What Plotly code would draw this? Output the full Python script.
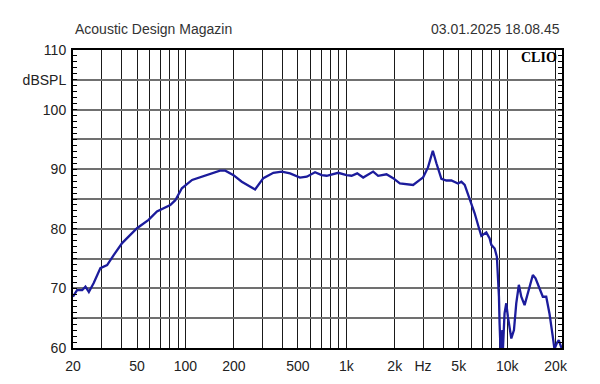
import math
import plotly.graph_objects as go

# ---- data ----
freq_hz = [20, 21.2, 22.8, 23.9, 25.1, 26.9, 29.6, 32.6, 35.8, 40.4, 50, 59, 66.5, 80.5, 86.5, 95,
           110, 136, 164, 177, 199, 224, 252, 271, 305, 352, 397, 447, 515, 568, 639, 703, 755,
           891, 1004, 1079, 1169, 1273, 1469, 1577, 1778, 1955, 2152, 2366, 2601, 2864, 3000,
           3220, 3450, 3632, 3900, 4190, 4500, 4945, 5190, 5445, 5850, 6280, 6680, 6910, 7420,
           7780, 7970, 8360, 8630, 8750, 8890, 8970, 9100, 9330, 9400, 9630, 9870, 10100, 10610,
           11020, 11390, 11820, 12240, 12830, 13440, 14440, 15010, 15890, 16660, 17490, 18320,
           19210, 19680, 20340, 20930, 21450, 21920]
spl_db = [68.6, 69.7, 69.7, 70.3, 69.4, 70.9, 73.4, 73.9, 75.6, 77.6, 80.1, 81.5, 82.9, 84.0, 84.8, 86.8,
          88.2, 89.0, 89.75, 89.75, 89.0, 87.9, 87.1, 86.6, 88.5, 89.4, 89.6, 89.3, 88.6, 88.75, 89.5,
          89.0, 88.9, 89.4, 89.0, 88.9, 89.3, 88.6, 89.6, 88.9, 89.15, 88.5, 87.6, 87.5, 87.35, 88.2,
          88.6, 90.3, 93.1, 91.0, 88.4, 88.1, 88.1, 87.6, 87.9, 87.35, 85.0, 82.6, 80.1, 78.8, 79.4,
          78.4, 77.3, 76.7, 75.3, 72.5, 68.6, 64.1, 59.5, 63.0, 59.5, 65.8, 67.5, 65.3, 61.6,
          63.0, 67.5, 70.6, 68.6, 67.2, 69.2, 72.25, 71.7, 70.0, 68.6, 68.6, 65.8,
          61.9, 59.8, 60.8, 61.3, 60.5, 59.8]

x_grid = [20, 30, 40, 50, 60, 70, 80, 90, 100, 200, 300, 400, 500, 600, 700, 800, 900,
          1000, 2000, 3000, 4000, 5000, 6000, 7000, 8000, 9000, 10000, 20000]
x_labels = {20: "20", 50: "50", 100: "100", 200: "200", 500: "500", 1000: "1k", 2000: "2k",
            3000: "Hz", 5000: "5k", 10000: "10k", 20000: "20k"}
y_grid = [60, 65, 70, 75, 80, 85, 90, 95, 100, 105, 110]
y_labels = {60: "60", 70: "70", 80: "80", 90: "90", 100: "100", 105: "dBSPL", 110: "110"}

title_left = "Acoustic Design Magazin"
title_right = "03.01.2025 18.08.45"
brand = "CLIO"

fig = go.Figure()
fig.add_trace(go.Scatter(x=freq_hz, y=spl_db, mode="lines",
                         line=dict(color="#1c1c9c", width=2.3), hoverinfo="skip"))

tick_font = dict(family="Liberation Sans, Arial, sans-serif", size=14, color="#222222")

# the page body adds an 8px margin, so the figure is sized 592x376 and offset accordingly
fig.update_layout(
    width=592, height=376,
    margin=dict(l=64.5, r=37.5, t=42, b=36, autoexpand=False),
    paper_bgcolor="white", plot_bgcolor="white",
    showlegend=False,
    xaxis=dict(
        type="log", range=[math.log10(20), math.log10(21920)],
        tickmode="array", tickvals=x_grid,
        ticktext=[x_labels.get(v, "") for v in x_grid],
        showgrid=True, gridcolor="#1a1a1a", gridwidth=1,
        showline=True, linecolor="black", linewidth=2, mirror=True,
        ticks="", tickfont=tick_font, zeroline=False, ticklabelstandoff=4,
        automargin=False,
    ),
    yaxis=dict(
        range=[60, 110],
        tickmode="array", tickvals=y_grid,
        ticktext=[y_labels.get(v, "") for v in y_grid],
        showgrid=True, gridcolor="#707070", gridwidth=1.5,
        showline=True, linecolor="black", linewidth=2, mirror="allticks",
        ticks="inside", ticklen=4, tickcolor="black",
        minor=dict(ticks="inside", ticklen=4, dtick=1, tick0=60, tickcolor="black", showgrid=False),
        tickfont=tick_font, zeroline=False, ticklabelstandoff=2, automargin=False,
    ),
    annotations=[
        dict(text=title_left, xref="paper", yref="paper", x=0, y=1, xanchor="left", yanchor="middle",
             yshift=21, showarrow=False,
             font=dict(family="Liberation Sans, Arial, sans-serif", size=14, color="#333333")),
        dict(text=title_right, xref="paper", yref="paper", x=1, y=1, xanchor="right", yanchor="middle",
             yshift=21, showarrow=False,
             font=dict(family="Liberation Sans, Arial, sans-serif", size=14, color="#333333")),
        dict(text="<b>" + brand + "</b>", xref="paper", yref="paper", x=1, y=1, xanchor="right",
             yanchor="middle", xshift=-3, yshift=-7, showarrow=False,
             font=dict(family="Liberation Serif, Times New Roman, serif", size=14, color="black")),
    ],
)

fig.write_html("out.html")
